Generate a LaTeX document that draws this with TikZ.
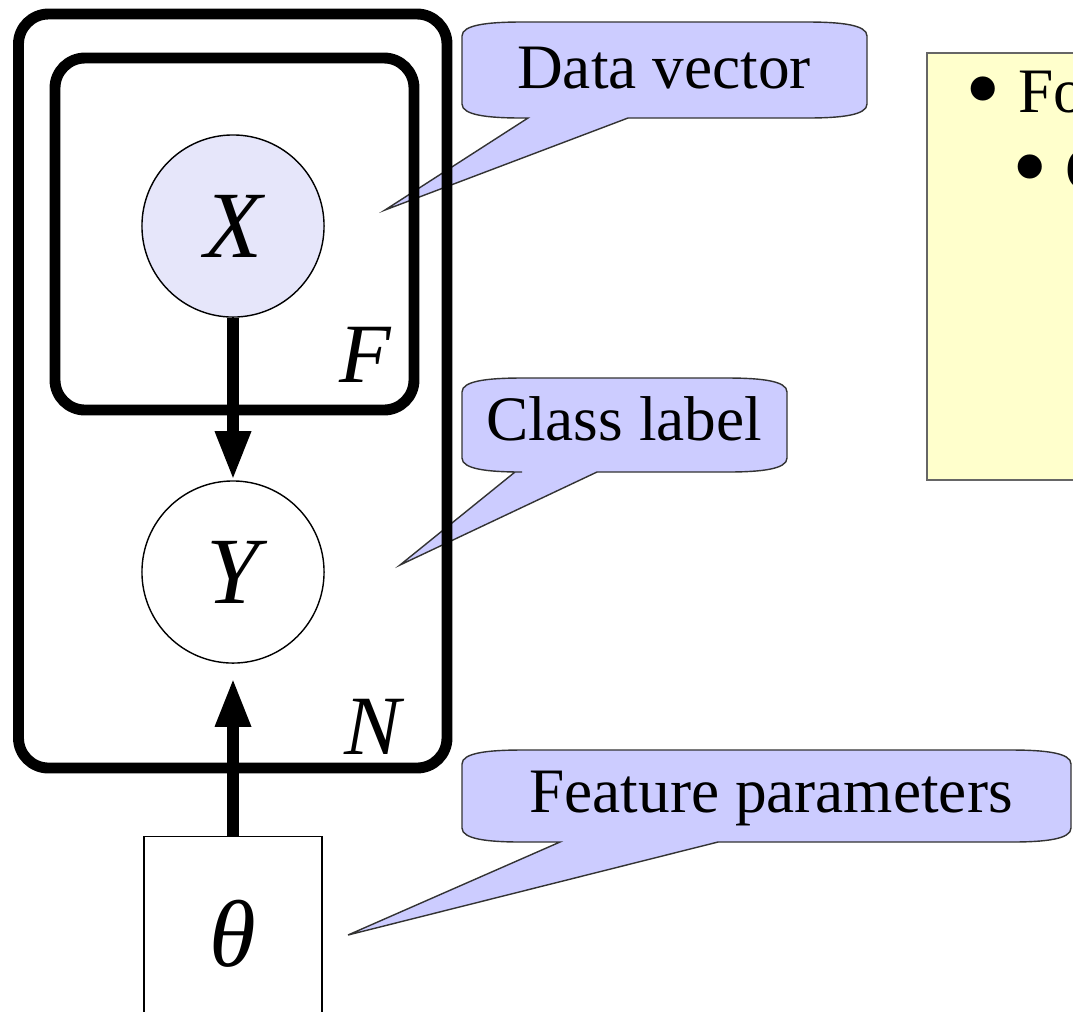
\documentclass[tikz,border=0pt]{standalone}
\usepackage{fontspec}
\setmainfont{Liberation Serif}
\usetikzlibrary{arrows.meta}

\definecolor{bubblefill}{HTML}{CCCCFF}
\definecolor{obsfill}{HTML}{E6E6FA}
\definecolor{notefill}{HTML}{FFFFCC}

\newcommand{\bigbullet}{\raisebox{-0.16em}{\scalebox{1.6}{\textbullet}}\hspace{0.27em}}

\begin{document}
\begin{tikzpicture}[x=0.01cm,y=-0.01cm,
	plate/.style={line width=3.1pt,rounded corners=0.3cm},
	var/.style={circle,draw,line width=0.4pt,minimum size=1.82cm,inner sep=0pt,
		font=\fontsize{27}{32}\selectfont\itshape},
	platelabel/.style={font=\fontsize{24}{28}\selectfont\itshape},
	edge/.style={line width=3.3pt,-{Triangle[length=0.49cm,width=0.33cm]}},
	bubble/.style={fill=bubblefill,draw=black!80,line width=0.4pt},
	says/.style={font=\fontsize{18}{22}\selectfont,anchor=base}]
\useasboundingbox (0,0) rectangle (1073,1011);
\clip (0,0) rectangle (1073,1011);

% note box, cut off at the right
\filldraw[fill=notefill,draw=black!60,line width=0.5pt] (927,53) rectangle (1120,480);
\node[says,anchor=base west,inner sep=0pt] (item1) at (965,112) {\bigbullet Fo};
\node[says,anchor=base west,inner sep=0pt] (item2) at (1012,190) {\bigbullet C};

% callouts
\foreach \l/\t/\r/\b/\p/\q/\tx/\ty in {462/22/867/118/528/628/385/210,
	462/378/787/472/515/597/400/565,
	462/750/1071/842/560/718/348/935}
	{\filldraw[bubble] (\l,{\t+14}) .. controls (\l,{\t+3}) and ({\l+25},\t) .. ({\l+60},\t)
		-- ({\r-60},\t) .. controls ({\r-25},\t) and (\r,{\t+3}) .. (\r,{\t+14})
		-- (\r,{\b-14}) .. controls (\r,{\b-3}) and ({\r-25},\b) .. ({\r-60},\b)
		-- (\q,\b) -- (\tx,\ty) -- (\p,\b)
		-- ({\l+60},\b) .. controls ({\l+25},\b) and (\l,{\b-3}) .. (\l,{\b-14}) -- cycle;}
\node[says] (dv) at (664,88) {Data vector};
\node[says] (cl) at (624,440) {Class label};
\node[says] (fp) at (771,812) {Feature parameters};

% plates
\draw[plate] (18.5,14) rectangle (447,768);
\draw[plate] (55,58) rectangle (414,410);
\node[platelabel] (F) at (365,355) {F};
\node[platelabel] (N) at (373,727) {N};

% variables
\node[var,fill=obsfill] (X) at (233,226) {X};
\node[var,fill=white] (Y) at (233,572) {Y};
\node[draw,line width=0.4pt,minimum width=1.78cm,minimum height=1.95cm,inner sep=0pt,
	font=\fontsize{27}{32}\selectfont\itshape] (theta) at (233,934) {θ};

\draw[edge] (X) -- (Y);
\draw[edge,shorten >=4pt] (theta) -- (Y);
\end{tikzpicture}
\end{document}
